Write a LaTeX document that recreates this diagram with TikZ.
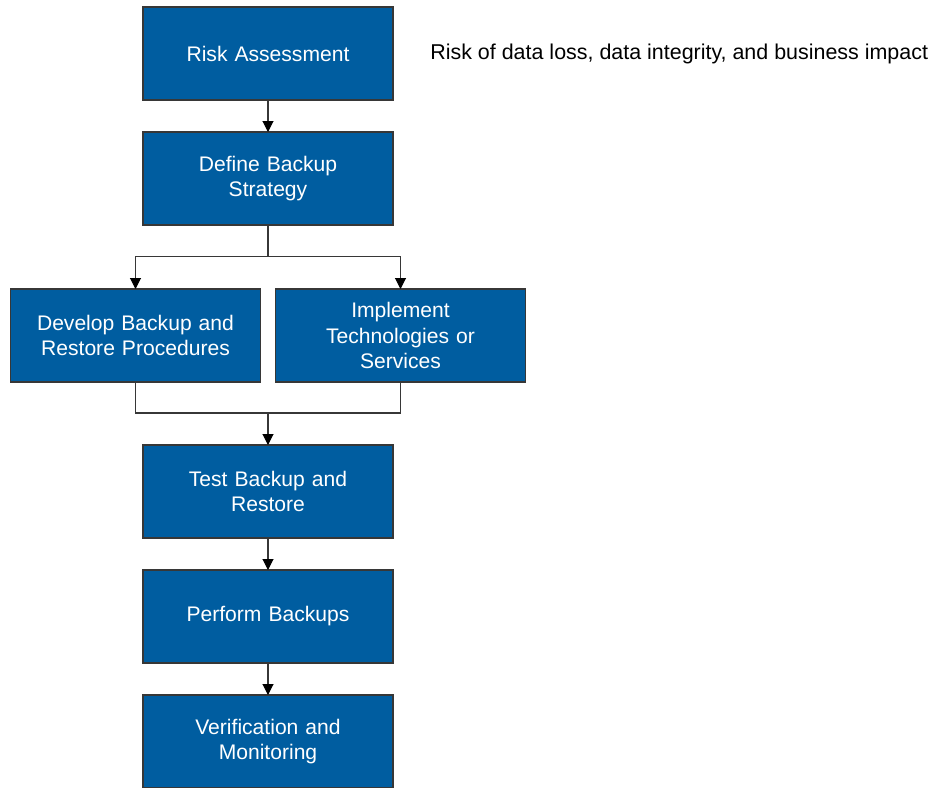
\documentclass[tikz,border=0pt]{standalone}
\usepackage{fontspec}
\setmainfont{Liberation Sans}
\usepackage{tikz}
\usetikzlibrary{positioning,arrows.meta,calc}
\definecolor{azulcaja}{RGB}{0,93,160}
\definecolor{grislinea}{RGB}{55,55,55}

\begin{document}
\begin{tikzpicture}[
  caja/.style={draw=grislinea, line width=0.6pt, fill=azulcaja, text=white,
               minimum width=5cm, minimum height=1.86cm, align=center, outer sep=0pt,
               font=\fontsize{12}{14.4}\selectfont, text width=4.6cm, inner sep=0pt},
  nota/.style={font=\fontsize{12.2}{14.6}\selectfont, anchor=west, inner sep=0pt},
  flecha/.style={-{Triangle[length=2.2mm,width=2.2mm,color=black]}, line width=0.6pt,
                 color=grislinea},
  linea/.style={line width=0.6pt, color=grislinea}]
  \useasboundingbox (0,0) rectangle (18.58,-15.76);
  \clip (0,0) rectangle (18.58,-15.76);
  \node[caja] (riesgo) at (5.36,-1.07) {Risk Assessment};
  \node[caja, below=0.64cm of riesgo] (estrategia) {Define Backup\\Strategy};
  \node[caja, below left=1.28cm and 0.15cm of estrategia.south] (procedimientos)
    {Develop Backup and\\Restore Procedures};
  \node[caja, right=0.3cm of procedimientos] (tecnologias)
    {Implement\\Technologies or\\Services};
  \coordinate (union) at ($(procedimientos.south -| estrategia.south)+(0,-0.62)$);
  \node[caja, below=0.64cm of union] (prueba) {Test Backup and\\Restore};
  \node[caja, below=0.64cm of prueba] (respaldos) {Perform Backups};
  \node[caja, below=0.64cm of respaldos] (verificacion) {Verification and\\Monitoring};
  \node[nota, right=0.74cm of riesgo] (n1)
    {Risk of data loss, data integrity, and business impact};
  \coordinate (rama) at ($(estrategia.south)+(0,-0.63)$);
  \draw[flecha] (riesgo) -- (estrategia);
  \draw[linea] (estrategia.south) -- (rama);
  \draw[flecha] (rama) -| (procedimientos.north);
  \draw[flecha] (rama) -| (tecnologias.north);
  \draw[linea] (procedimientos.south) |- (union) -| (tecnologias.south);
  \draw[flecha] (union) -- (prueba);
  \draw[flecha] (prueba) -- (respaldos);
  \draw[flecha] (respaldos) -- (verificacion);
\end{tikzpicture}
\end{document}
